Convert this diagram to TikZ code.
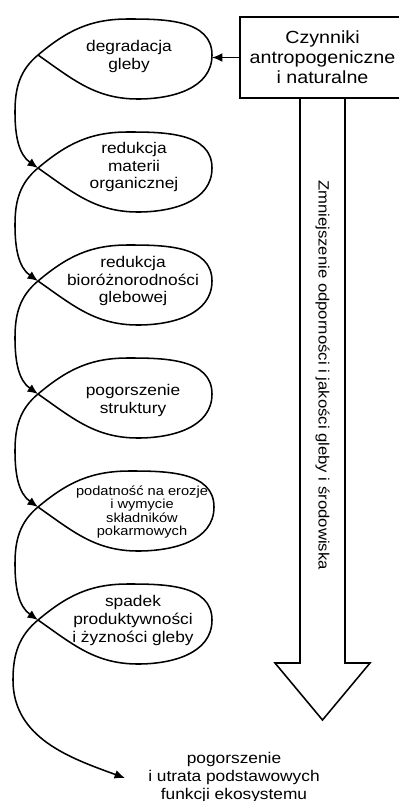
\documentclass[tikz,border=0pt]{standalone}
\usepackage{fontspec}
\setmainfont{Liberation Sans}[FakeStretch=1.12]
\usetikzlibrary{calc}
\usetikzlibrary{positioning}
\usetikzlibrary{arrows.meta}

\tikzset{
  spiral/.style={line width=1.1pt},
  tipline/.style={line width=1.1pt, -{Latex[length=2.6mm,width=2.2mm]}},
  looptext/.style={align=center, font=\fontsize{11}{12.8}\selectfont},
  smalltext/.style={align=center, font=\fontsize{9.3}{9.4}\selectfont},
}

\begin{document}
\begin{tikzpicture}
				\useasboundingbox (0,0) rectangle (9.95,-20.025);

				% crossing points of the spiral
				\coordinate (c1) at (0.95,-1.375);
				\coordinate (c2) at (0.95,-4.2);
				\coordinate (c3) at (0.95,-7.025);
				\coordinate (c4) at (0.95,-9.85);
				\coordinate (c5) at (0.95,-12.675);
				\coordinate (c6) at (0.95,-15.5);
				\coordinate (end) at (3.125,-19.45);

				\node[looptext] (degr) at (3.225,-1.4) {degradacja\\gleby};
				\node[looptext] (mat) at (3.35,-4.175) {redukcja\\materii\\organicznej};
				\node[looptext] (bio) at (3.325,-7.025) {redukcja\\bioróżnorodności\\glebowej};
				\node[looptext] (str) at (3.325,-10.0) {pogorszenie\\struktury};
				\node[smalltext] (eroz) at (3.55,-12.8) {podatność na erozje\\i wymycie\\składników\\pokarmowych};
				\node[looptext] (prod) at (3.325,-15.5) {spadek\\produktywności\\i żyzności gleby};
				\node[looptext] (funk) at (5.85,-19.425) {pogorszenie\\i utrata podstawowych\\funkcji ekosystemu};

				\node[align=center, font=\fontsize{12.5}{14.2}\selectfont] (czyn) at (8.0625,-1.4375) {Czynniki\\antropogeniczne\\i naturalne};
				\draw[line width=1.1pt] (10.6,-0.425) -- (6.0,-0.425) coordinate (boxnw) -- (6.0,-2.45) coordinate (boxsw) -- (10.6,-2.45);
				\coordinate (boxw) at ($(boxnw)!0.5!(boxsw)$);

				% loops
				\draw[spiral] (c1) to[out=-35,in=180] ++(2.5,-1.1) to[out=0,in=-90] ++(1.85,1.1) coordinate (r1) to[out=90,in=0] ++(-2.1,0.9) to[out=180,in=40] (c1);
				\draw[spiral] (c2) to[out=-35,in=180] ++(2.5,-1.1) to[out=0,in=-90] ++(1.85,1.1) to[out=90,in=0] ++(-2.1,0.9) to[out=180,in=40] (c2);
				\draw[spiral] (c3) to[out=-35,in=180] ++(2.5,-1.1) to[out=0,in=-90] ++(1.85,1.1) to[out=90,in=0] ++(-2.1,0.9) to[out=180,in=40] (c3);
				\draw[spiral] (c4) to[out=-35,in=180] ++(2.5,-1.1) to[out=0,in=-90] ++(1.85,1.1) to[out=90,in=0] ++(-2.1,0.9) to[out=180,in=40] (c4);
				\draw[spiral] (c5) to[out=-35,in=180] ++(2.5,-1.1) to[out=0,in=-90] ++(1.9,1.1) to[out=90,in=0] ++(-2.1,0.9) to[out=180,in=40] (c5);
				\draw[spiral] (c6) to[out=-35,in=180] ++(2.5,-1.1) to[out=0,in=-90] ++(1.85,1.1) to[out=90,in=0] ++(-2.1,0.9) to[out=180,in=40] (c6);

				% arcs between loops
				\draw[tipline] (c1) to[out=220,in=90] ++(-0.575,-1.425) to[out=-90,in=145] (c2);
				\draw[tipline] (c2) to[out=220,in=90] ++(-0.575,-1.425) to[out=-90,in=145] (c3);
				\draw[tipline] (c3) to[out=220,in=90] ++(-0.575,-1.425) to[out=-90,in=145] (c4);
				\draw[tipline] (c4) to[out=220,in=90] ++(-0.575,-1.425) to[out=-90,in=145] (c5);
				\draw[tipline] (c5) to[out=220,in=90] ++(-0.575,-1.425) to[out=-90,in=145] (c6);
				\draw[tipline] (c6) to[out=220,in=90] ++(-0.625,-1.5) to[out=-90,in=160] (end);

				\draw[tipline] (boxw) -- (boxw -| r1);

				% hollow arrow
				\draw[line width=1.1pt] (7.5,-2.45) -- (7.5,-16.575) -- (6.875,-16.575) -- (8.0625,-18.0) -- (9.25,-16.575) -- (8.625,-16.575) -- (8.625,-2.45);
				\node[rotate=-90, font=\fontsize{10.6}{13}\selectfont] (zmn) at (8.0625,-9.375) {Zmniejszenie odporności i jakości gleby i środowiska};
			\end{tikzpicture}
\end{document}
